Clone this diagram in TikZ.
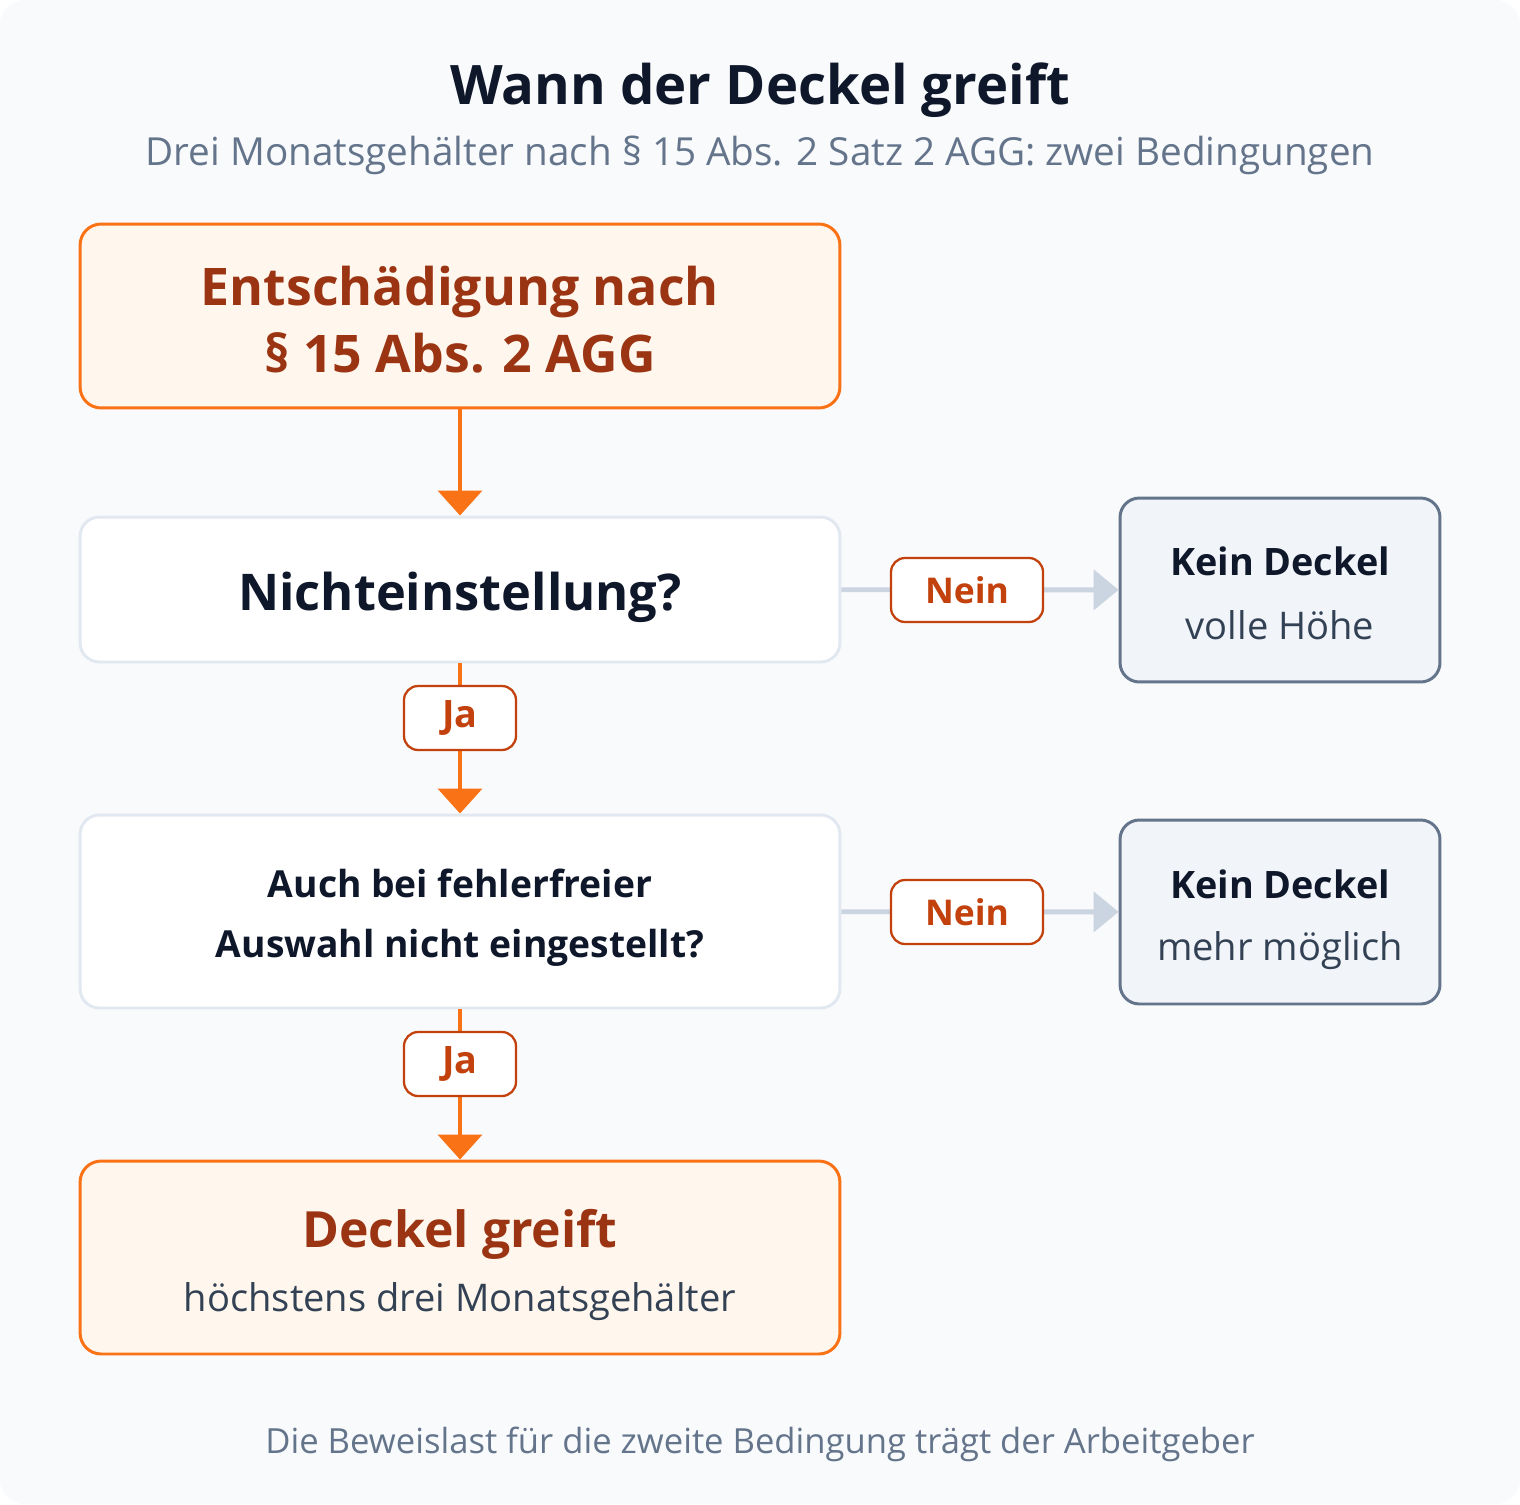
\documentclass[tikz,border=0pt]{standalone}
\usepackage{fontspec}
\setmainfont{Open Sans}
\usetikzlibrary{arrows.meta}

\definecolor{bgpage}{HTML}{F8FAFC}
\definecolor{inknavy}{HTML}{0F172A}
\definecolor{inkslate}{HTML}{64748B}
\definecolor{inkbody}{HTML}{334155}
\definecolor{orangeline}{HTML}{F97316}
\definecolor{orangefill}{HTML}{FFF7ED}
\definecolor{rust}{HTML}{9A3412}
\definecolor{rustlabel}{HTML}{C2410C}
\definecolor{paleline}{HTML}{E2E8F0}
\definecolor{greyarrow}{HTML}{CBD5E1}
\definecolor{greyfill}{HTML}{F1F5F9}

\newcommand\fsz[1]{\fontsize{#1}{#1}\selectfont}

\tikzset{
	keybox/.style={draw=orangeline, fill=orangefill, line width=1.7pt, rounded corners=12pt, minimum width=15.2cm},
	askbox/.style={draw=paleline, fill=white, line width=1.7pt, rounded corners=11pt, minimum width=15.2cm},
	endbox/.style={draw=inkslate, fill=greyfill, line width=1.7pt, rounded corners=11pt, minimum width=6.4cm, minimum height=3.68cm},
	tagbox/.style={draw=rustlabel, fill=white, line width=1.3pt, rounded corners=8pt, minimum height=1.28cm, inner sep=0pt, text=rustlabel, font=\fsz{20.2}\bfseries},
	txt/.style={anchor=base, inner sep=0pt},
	yesflow/.style={draw=orangeline, line width=2.3pt, -{Triangle[width=0.88cm,length=0.5cm]}},
	noflow/.style={draw=greyarrow, line width=2.8pt, -{Triangle[width=0.8cm,length=0.5cm]}},
}

\begin{document}
\begin{tikzpicture}[x=0.02cm, y=-0.02cm]
	%%%%% START %%%%%
	
	\useasboundingbox (0, 0) rectangle (1520, 1504);
	\fill[white] (0, 0) rectangle (1520, 1504);
	\fill[bgpage, rounded corners=14pt] (0, 0) rectangle (1520, 1504);
	
	% heading
	\node[txt, text=inknavy, font=\fsz{31}\bfseries] (title) at (760, 105) {Wann der Deckel greift};
	\node[txt, text=inkslate, font=\fsz{22}] (subtitle) at (760, 165) {Drei Monatsgehälter nach § 15 Abs. 2 Satz 2 AGG: zwei Bedingungen};
	
	% boxes
	\node[keybox, minimum height=3.68cm] (claim) at (460, 316) {};
	\node[askbox, minimum height=2.9cm] (hired) at (460, 589.5) {};
	\node[askbox, minimum height=3.86cm] (fair) at (460, 911.5) {};
	\node[keybox, minimum height=3.86cm] (capped) at (460, 1257.5) {};
	
	\node[endbox] (full) at (1280, 590) {};
	\node[endbox] (gone) at (1280, 912) {};
	
	% arrows
	\draw[yesflow] (claim) -- (hired);
	\draw[yesflow] (hired) -- (fair);
	\draw[yesflow] (fair) -- (capped);
	\draw[noflow] (hired) -- (full);
	\draw[noflow] (fair) -- (gone);
	
	% tags on the arrows
	\node[tagbox, minimum width=3.04cm] (no1) at (967, 590) {Nein};
	\node[tagbox, minimum width=3.04cm] (no2) at (967, 912) {Nein};
	\node[tagbox, minimum width=2.24cm, font=\fsz{21.5}\bfseries] (yes1) at (460, 718) {Ja};
	\node[tagbox, minimum width=2.24cm, font=\fsz{21.5}\bfseries] (yes2) at (460, 1064) {Ja};
	
	% box texts
	\node[txt, text=rust, font=\fsz{29.5}\bfseries] (claim1) at (460, 305) {Entschädigung nach};
	\node[txt, text=rust, font=\fsz{29.5}\bfseries] (claim2) at (460, 372) {§ 15 Abs. 2 AGG};
	
	\node[txt, text=inknavy, font=\fsz{28.8}\bfseries] (hired1) at (460, 610) {Nichteinstellung?};
	
	\node[txt, text=inknavy, font=\fsz{21.2}\bfseries] (fair1) at (460, 897) {Auch bei fehlerfreier};
	\node[txt, text=inknavy, font=\fsz{21.2}\bfseries] (fair2) at (460, 957) {Auswahl nicht eingestellt?};
	
	\node[txt, text=rust, font=\fsz{28.4}\bfseries] (capped1) at (460, 1247) {Deckel greift};
	\node[txt, text=inkbody, font=\fsz{21.7}] (capped2) at (460, 1311) {höchstens drei Monatsgehälter};
	
	\node[txt, text=inknavy, font=\fsz{21.5}\bfseries] (full1) at (1280, 575) {Kein Deckel};
	\node[txt, text=inkbody, font=\fsz{21.7}] (full2) at (1280, 639) {volle Höhe};
	
	\node[txt, text=inknavy, font=\fsz{21.5}\bfseries] (gone1) at (1280, 898) {Kein Deckel};
	\node[txt, text=inkbody, font=\fsz{21.7}] (gone2) at (1280, 960) {mehr möglich};
	
	% footnote
	\node[txt, text=inkslate, font=\fsz{19.7}] (note) at (760, 1453) {Die Beweislast für die zweite Bedingung trägt der Arbeitgeber};
	
	%%%%% END %%%%%
\end{tikzpicture}
\end{document}
